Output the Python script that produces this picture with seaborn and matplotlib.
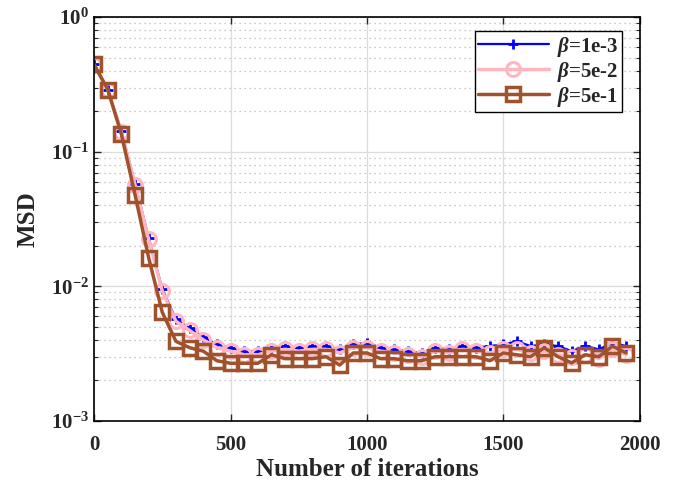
import numpy as np
import pandas as pd
import matplotlib
matplotlib.use("Agg")
import matplotlib.pyplot as plt
import seaborn as sns
from matplotlib.ticker import LogLocator, LogFormatterMathtext, FixedLocator, NullFormatter

iterations = list(range(0, 2000, 50))

msd_b1e3 = [0.45, 0.29, 0.143, 0.058, 0.023, 0.0095, 0.0057, 0.0049, 0.0042, 0.0037,
            0.0035, 0.0033, 0.0033, 0.0035, 0.0036, 0.0035, 0.0036, 0.0036, 0.0034, 0.0037,
            0.0038, 0.0035, 0.0034, 0.0033, 0.0032, 0.0035, 0.0034, 0.0036, 0.0035, 0.0036,
            0.0037, 0.0039, 0.0036, 0.0037, 0.0036, 0.0033, 0.0036, 0.0034, 0.0038, 0.0036]

msd_b5e2 = [0.44, 0.29, 0.14, 0.057, 0.0223, 0.0092, 0.0055, 0.0047, 0.0040, 0.0035,
            0.0033, 0.0031, 0.0031, 0.0033, 0.0034, 0.0033, 0.0034, 0.0034, 0.0032, 0.0035,
            0.0035, 0.0033, 0.0032, 0.0031, 0.0030, 0.0033, 0.0032, 0.0034, 0.0033, 0.0032,
            0.0034, 0.0034, 0.0032, 0.0033, 0.0031, 0.0030, 0.0031, 0.0029, 0.0034, 0.0031]

msd_b5e1 = [0.445, 0.29, 0.135, 0.048, 0.0163, 0.0064, 0.0039, 0.0035, 0.0033, 0.0028,
            0.00268, 0.00268, 0.00268, 0.0031, 0.0029, 0.0029, 0.0029, 0.0030, 0.0026, 0.0032,
            0.0032, 0.0029, 0.0029, 0.0028, 0.0028, 0.0030, 0.0030, 0.0030, 0.0030, 0.0028,
            0.0032, 0.0031, 0.0030, 0.0035, 0.0030, 0.0027, 0.0031, 0.0030, 0.0036, 0.0032]

labels = [r"$\beta$=1e-3", r"$\beta$=5e-2", r"$\beta$=5e-1"]
x_ticks = [0, 500, 1000, 1500, 2000]

sns.set_style("ticks")
plt.rcParams["font.family"] = ["Liberation Serif", "DejaVu Serif"]
plt.rcParams["font.weight"] = "bold"
plt.rcParams["mathtext.fontset"] = "custom"
plt.rcParams["mathtext.rm"] = "Liberation Serif:bold"
plt.rcParams["mathtext.bf"] = "Liberation Serif:bold"
plt.rcParams["mathtext.it"] = "Liberation Serif:italic:bold"

df = pd.DataFrame({"iter": iterations * 3,
                   "msd": msd_b1e3 + msd_b5e2 + msd_b5e1,
                   "beta": [labels[0]] * 40 + [labels[1]] * 40 + [labels[2]] * 40})

fig = plt.figure(figsize=(6.77, 4.90), dpi=100)
ax = fig.add_axes([0.139, 0.141, 0.806, 0.824])

styles = {
    labels[0]: dict(color="#0000ff", marker="+", markersize=7, markeredgewidth=2.0, linewidth=1.6),
    labels[1]: dict(color="#ffb6c1", marker="o", markersize=10, markeredgewidth=2.2, linewidth=2.5),
    labels[2]: dict(color="#a0522d", marker="s", markersize=10, markeredgewidth=2.5, linewidth=2.5),
}
for lab in labels:
    sub = df[df["beta"] == lab]
    st = styles[lab]
    sns.lineplot(data=sub, x="iter", y="msd", ax=ax, label=lab, color=st["color"],
                 marker=st["marker"], markersize=st["markersize"],
                 markeredgewidth=st["markeredgewidth"], linewidth=st["linewidth"],
                 markerfacecolor="none", markeredgecolor=st["color"],
                 errorbar=None)

ax.set_yscale("log")
ax.set_ylim(1e-3, 1)
ax.set_xlim(0, 2000)
ax.xaxis.set_major_locator(FixedLocator(x_ticks))
ax.yaxis.set_major_locator(LogLocator(base=10, numticks=10))
ax.yaxis.set_major_formatter(LogFormatterMathtext())
ax.yaxis.set_minor_locator(LogLocator(base=10, subs=np.arange(2, 10), numticks=10))
ax.yaxis.set_minor_formatter(NullFormatter())

ax.grid(True, which="major", color="#dcdcdc", linewidth=0.9, linestyle="-")
ax.grid(True, which="minor", axis="y", color="#b8b8b8", linewidth=0.9, linestyle=(0, (1, 3)))
ax.set_axisbelow(True)

ax.tick_params(which="both", direction="in", top=True, right=True, labelsize=15)
ax.tick_params(which="major", length=5, width=1)
ax.tick_params(which="minor", length=3, width=0.8)
ax.tick_params(axis="x", pad=10)
for s in ax.spines.values():
    s.set_linewidth(1.2)
    s.set_color("black")

ax.set_xlabel("Number of iterations", fontsize=18, fontweight="bold", labelpad=2)
ax.set_ylabel("MSD", fontsize=18, fontweight="bold", labelpad=8)

leg = ax.legend(loc="upper right", fontsize=15, frameon=True, fancybox=False,
                edgecolor="black", framealpha=1, bbox_to_anchor=(0.975, 0.975),
                handlelength=3.4, handletextpad=0.4, borderpad=0.15, labelspacing=0.05,
                borderaxespad=0.2)
leg.get_frame().set_linewidth(1.0)

fig.savefig("out.png", dpi=100)
